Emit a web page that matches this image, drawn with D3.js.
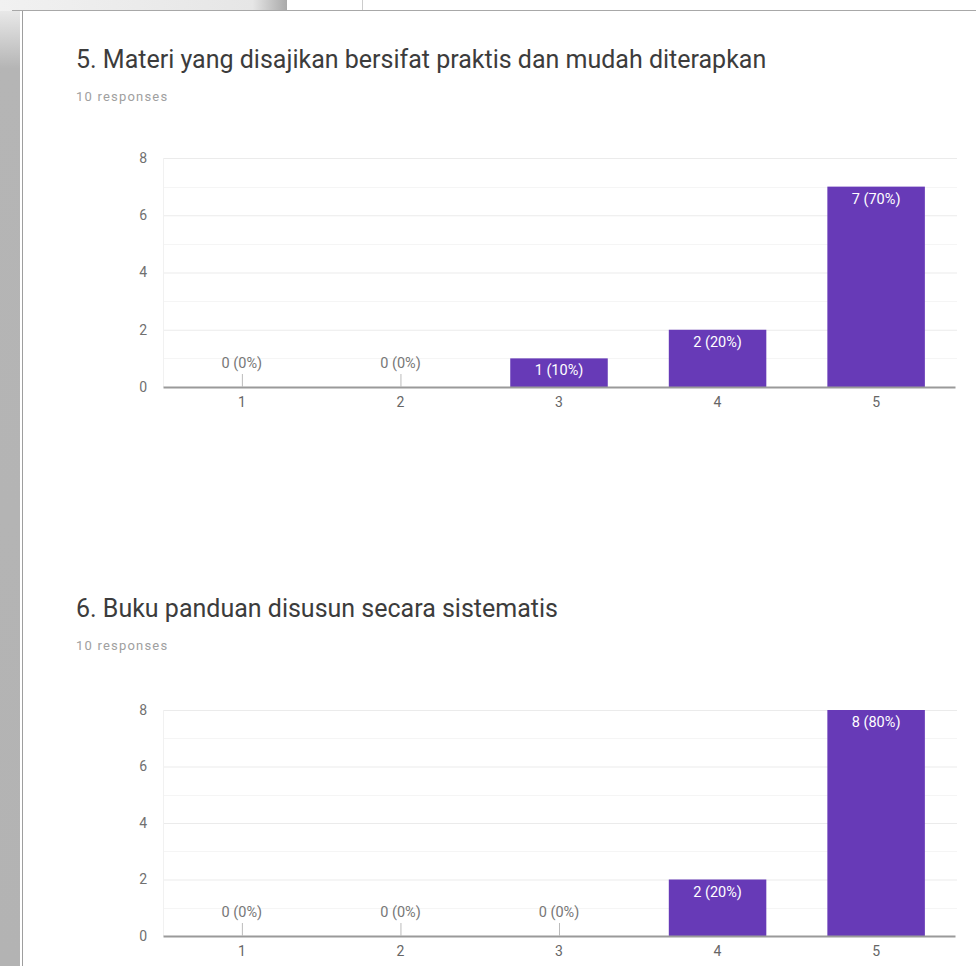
<!DOCTYPE html>
<html><head><meta charset="utf-8">
<script src="https://cdn.jsdelivr.net/npm/d3@7"></script>
<style>html,body{margin:0;padding:0;background:#fff;}svg{display:block;}</style>
</head><body>
<svg id="c" width="976" height="966"></svg>
<script>
const categories = ["1","2","3","4","5"];
const q5Values = [0,0,1,2,7];
const q6Values = [0,0,0,2,8];
const yTicks = [0,2,4,6,8];
const titles = ["5. Materi yang disajikan bersifat praktis dan mudah diterapkan","6. Buku panduan disusun secara sistematis"];
const responsesText = "10 responses";

const svg = d3.select("#c");
const font = "Roboto, 'Noto Sans', sans-serif";

// background frame
const defs = svg.append("defs");
const g1 = defs.append("linearGradient").attr("id","topg").attr("x1","0").attr("x2","1");
g1.append("stop").attr("offset","0").attr("stop-color","#f1f1f1");
g1.append("stop").attr("offset","0.88").attr("stop-color","#e6e6e6");
g1.append("stop").attr("offset","1").attr("stop-color","#a9a9a9");
const g2 = defs.append("linearGradient").attr("id","leftg").attr("x1","0").attr("x2","0").attr("y1","0").attr("y2","1");
g2.append("stop").attr("offset","0").attr("stop-color","#e8e8e8");
g2.append("stop").attr("offset","0.06").attr("stop-color","#b5b5b5");
g2.append("stop").attr("offset","1").attr("stop-color","#b3b3b3");
svg.append("rect").attr("x",0).attr("y",0).attr("width",287).attr("height",11).attr("fill","url(#topg)");
svg.append("line").attr("x1",362.5).attr("x2",362.5).attr("y1",0).attr("y2",10).attr("stroke","#ccc");
svg.append("rect").attr("x",0).attr("y",11).attr("width",20).attr("height",955).attr("fill","url(#leftg)");
svg.append("line").attr("x1",12).attr("x2",976).attr("y1",10.5).attr("y2",10.5).attr("stroke","#a8a8a8");
svg.append("line").attr("x1",22.5).attr("x2",22.5).attr("y1",11).attr("y2",966).attr("stroke","#9e9e9e");

const x = d3.scaleBand().domain(categories).range([163,955]).paddingInner(0.385).paddingOuter(0.19);

function drawChart(title, values, titleY, top, bottom){
  const total = d3.sum(values);
  const g = svg.append("g");
  g.append("text").attr("x",76).attr("y",titleY).attr("font-family",font).attr("font-size",25)
    .attr("fill","#3c3c3c").text(title);
  g.append("text").attr("x",76).attr("y",titleY+33).attr("font-family",font).attr("font-size",13)
    .attr("letter-spacing",1.2).attr("fill","#a0a0a0").text(responsesText);
  const y = d3.scaleLinear().domain([0,8]).range([bottom, top]);
  // minor gridlines
  g.selectAll(".minor").data(d3.range(1,8,2)).join("line")
    .attr("x1",163).attr("x2",957).attr("y1",d=>Math.round(y(d))+0.5).attr("y2",d=>Math.round(y(d))+0.5)
    .attr("stroke","#f5f5f5");
  // axis with gridlines
  const ay = g.append("g").attr("transform","translate(163,0)")
    .call(d3.axisLeft(y).tickValues(yTicks).tickSize(-794).tickPadding(16));
  ay.select(".domain").remove();
  ay.selectAll(".tick line").attr("stroke","#ebebeb").attr("opacity",d=>d===0?0:1);
  ay.selectAll(".tick text").attr("font-family",font).attr("font-size",14).attr("fill","#707070");
  g.append("line").attr("x1",163.5).attr("x2",163.5).attr("y1",top).attr("y2",bottom).attr("stroke","#f1f1f1");
  // bars
  g.selectAll(".bar").data(values).join("rect")
    .attr("x",(d,i)=>x(categories[i])).attr("width",x.bandwidth())
    .attr("y",d=>y(d)).attr("height",d=>bottom-y(d)).attr("fill","#673ab7");
  // baseline
  const ax = g.append("g").attr("transform",`translate(0,${bottom})`)
    .call(d3.axisBottom(x).tickSize(0).tickPadding(10));
  ax.select(".domain").attr("stroke","#9a9a9a").attr("stroke-width",2);
  ax.selectAll(".tick text").attr("font-family",font).attr("font-size",14).attr("fill","#666");
  // labels
  values.forEach((v,i)=>{
    const cx = x(categories[i]) + x.bandwidth()/2;
    const lab = `${v} (${Math.round(v/total*100)}%)`;
    if(v===0){
      g.append("line").attr("x1",cx+0.5).attr("x2",cx+0.5).attr("y1",bottom-13).attr("y2",bottom).attr("stroke","#bbb");
      g.append("text").attr("x",cx).attr("y",bottom-19).attr("text-anchor","middle")
        .attr("font-family",font).attr("font-size",14.5).attr("fill","#777").text(lab);
    } else {
      g.append("text").attr("x",cx).attr("y",y(v)+17).attr("text-anchor","middle")
        .attr("font-family",font).attr("font-size",14.5).attr("fill","#fff").text(lab);
    }
  });
}
drawChart(titles[0], q5Values, 68, 158, 387);
drawChart(titles[1], q6Values, 617, 710, 936);
</script>
</body></html>
